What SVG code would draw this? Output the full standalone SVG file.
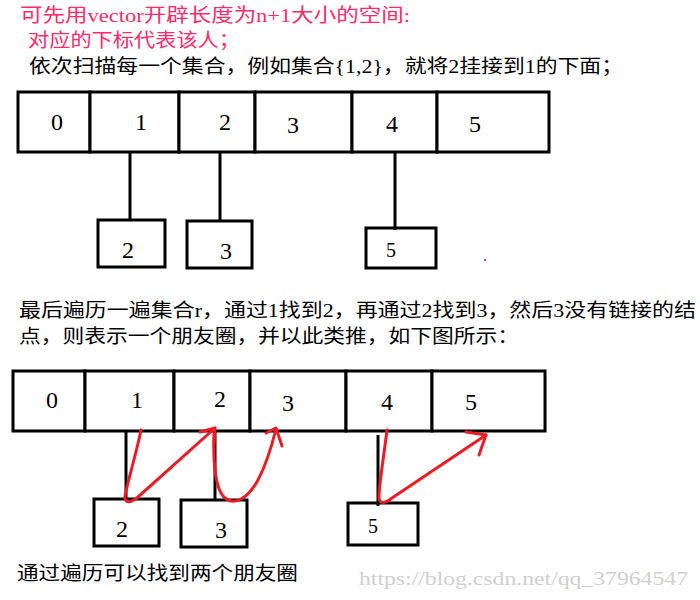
<svg xmlns="http://www.w3.org/2000/svg" width="700" height="600" viewBox="0 0 700 600">
<style>
.cell{fill:#fff;stroke:#000;stroke-width:3}
.num{font-family:"Liberation Serif","Times New Roman",serif;font-size:24px;fill:#000;text-anchor:middle}
.small{font-size:20px}
.txt{font-family:"Liberation Serif","Noto Sans CJK SC",serif;font-size:19px;fill:#000}
.red{fill:#ff2a6a}
.url{font-family:"Liberation Serif",serif;font-size:19px;fill:#cfcfcf}
.link{stroke:#000;stroke-width:3;fill:none}
.arr{stroke:#ec1c24;stroke-width:3;fill:none;stroke-linecap:round;stroke-linejoin:round}
</style>
<rect width="700" height="600" fill="#fff"/>
<g id="texts-top">
<text class="txt red" x="20" y="22" textLength="390" lengthAdjust="spacingAndGlyphs">可先用vector开辟长度为n+1大小的空间:</text>
<text class="txt red" x="28" y="47" textLength="212" lengthAdjust="spacingAndGlyphs">对应的下标代表该人；</text>
<text class="txt" x="29" y="73" textLength="594" lengthAdjust="spacingAndGlyphs">依次扫描每一个集合，例如集合{1,2}，就将2挂接到1的下面；</text>
</g>
<g id="top-array">
<g id="t0"><rect class="cell" x="18" y="92" width="72" height="60"/><text class="num" x="57" y="130">0</text></g>
<g id="t1"><rect class="cell" x="90" y="92" width="89" height="60"/><text class="num" x="141" y="130">1</text></g>
<g id="t2"><rect class="cell" x="179" y="92" width="76" height="60"/><text class="num" x="225" y="130">2</text></g>
<g id="t3"><rect class="cell" x="255" y="92" width="97" height="60"/><text class="num" x="293" y="133">3</text></g>
<g id="t4"><rect class="cell" x="352" y="92" width="85" height="60"/><text class="num" x="392" y="132">4</text></g>
<g id="t5"><rect class="cell" x="437" y="92" width="112" height="60"/><text class="num" x="475" y="132">5</text></g>
</g>
<g id="top-sub-2"><rect class="cell" x="98" y="220" width="67" height="47"/><text class="num" x="128" y="258">2</text></g>
<g id="top-sub-3"><rect class="cell" x="187" y="221" width="65" height="47"/><text class="num" x="226" y="259">3</text></g>
<g id="top-sub-5"><rect class="cell" x="366" y="228" width="70" height="40"/><text class="num small" x="391" y="257">5</text></g>
<rect x="484" y="259" width="2" height="2" fill="#f04060"/>
<g id="texts-mid">
<text class="txt" x="19" y="317" textLength="677" lengthAdjust="spacingAndGlyphs">最后遍历一遍集合r，通过1找到2，再通过2找到3，然后3没有链接的结</text>
<text class="txt" x="19" y="343" textLength="500" lengthAdjust="spacingAndGlyphs">点，则表示一个朋友圈，并以此类推，如下图所示：</text>
</g>
<g id="bottom-array">
<g id="b0"><rect class="cell" x="13" y="371" width="72" height="60"/><text class="num" x="52" y="408">0</text></g>
<g id="b1"><rect class="cell" x="85" y="371" width="89" height="60"/><text class="num" x="137" y="408">1</text></g>
<g id="b2"><rect class="cell" x="174" y="371" width="76" height="60"/><text class="num" x="220" y="407">2</text></g>
<g id="b3"><rect class="cell" x="250" y="371" width="96" height="60"/><text class="num" x="288" y="411">3</text></g>
<g id="b4"><rect class="cell" x="346" y="371" width="86" height="60"/><text class="num" x="387" y="410">4</text></g>
<g id="b5"><rect class="cell" x="432" y="371" width="113" height="60"/><text class="num" x="471" y="410">5</text></g>
</g>
<g id="bot-sub-2"><rect class="cell" x="94" y="499" width="65" height="47"/><text class="num" x="122" y="537">2</text></g>
<g id="bot-sub-3"><rect class="cell" x="181" y="500" width="66" height="47"/><text class="num" x="221" y="538">3</text></g>
<g id="bot-sub-5"><rect class="cell" x="348" y="503" width="70" height="42"/><text class="num small" x="373" y="533">5</text></g>
<g id="connectors">
<line class="link" x1="130" y1="152" x2="130" y2="220"/>
<line class="link" x1="220" y1="152" x2="220" y2="221"/>
<line class="link" x1="395" y1="151" x2="395" y2="230"/>
<line class="link" x1="126" y1="431" x2="126" y2="499"/>
<line class="link" x1="215" y1="431" x2="215" y2="500"/>
<line class="link" x1="378" y1="435" x2="378" y2="506"/>
<path class="arr" d="M141,430 C136,455 128,480 125,496 C124,504 131,503 138,497 L215,428"/>
<path class="arr" d="M200,432 L215,428 L214,444"/>
<path class="arr" d="M214,434 C213,460 215,490 225,498 C235,506 248,498 258,480 C266,465 272,445 276,429"/>
<path class="arr" d="M266,433 L276,428 L282,446"/>
<path class="arr" d="M387,430 C384,455 379,485 379,497 C379,505 386,503 392,498 L486,435"/>
<path class="arr" d="M466,432 L486,435 L479,455"/>
</g>
<g id="texts-bottom">
<text class="txt" x="17" y="580" textLength="281" lengthAdjust="spacingAndGlyphs">通过遍历可以找到两个朋友圈</text>
<text class="url" x="359" y="585" textLength="329" lengthAdjust="spacingAndGlyphs">https://blog.csdn.net/qq_37964547</text>
</g>
</svg>
